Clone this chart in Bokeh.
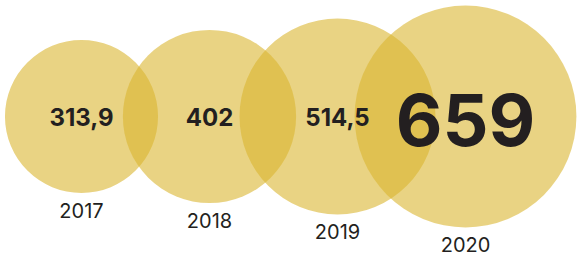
import math
from bokeh.plotting import figure
from bokeh.models import ColumnDataSource, Range1d
from bokeh.core.properties import value
from bokeh.embed import file_html
from bokeh.resources import INLINE

years = [2017, 2018, 2019, 2020]
year_labels = ["2017", "2018", "2019", "2020"]
values = [313.9, 402, 514.5, 659]
value_labels = ["313,9", "402", "514,5", "659"]

SCALE = 4.32     # px of radius per sqrt(value)
STEP = 128       # px between circle centres
LEFT = 81        # px of first centre
CY = 140         # centre line (data units = px from bottom)

radii = [SCALE * math.sqrt(v) for v in values]

src = ColumnDataSource(dict(
    x=years, y=[CY] * len(years), r=radii,
    ylab=year_labels, vlab=value_labels,
    yoff=[r + 17 for r in radii],
))

W, H = 579, 256
start = years[0] - LEFT / STEP
p = figure(width=W, height=H, output_backend="svg", toolbar_location=None,
           x_range=Range1d(start, start + W / STEP), y_range=Range1d(0, H),
           min_border=0, outline_line_color=None, background_fill_color="white")
p.axis.visible = False
p.grid.visible = False

p.circle(x="x", y="y", radius="r", radius_units="screen", source=src,
         fill_color="#DAB630", fill_alpha=0.6, line_color=None)

small = ColumnDataSource(dict(x=years[:3], y=[CY] * 3, t=value_labels[:3]))
p.text(x="x", y="y", text="t", source=small, text_align="center",
       text_baseline="middle", text_font=value("Inter"), text_font_style="bold",
       text_font_size="24px", text_color="#231F20")
big = ColumnDataSource(dict(x=years[3:], y=[CY], t=value_labels[3:]))
p.text(x="x", y="y", text="t", source=big, text_align="center",
       text_baseline="middle", text_font=value("Inter"), text_font_style="bold",
       text_font_size="72px", text_color="#231F20", y_offset=3)

p.text(x="x", y="y", text="ylab", source=src, y_offset="yoff",
       text_align="center", text_baseline="middle", text_font=value("Inter"),
       text_font_size="20px", text_color="#231F20")

open("out.html", "w").write(file_html(p, INLINE))
